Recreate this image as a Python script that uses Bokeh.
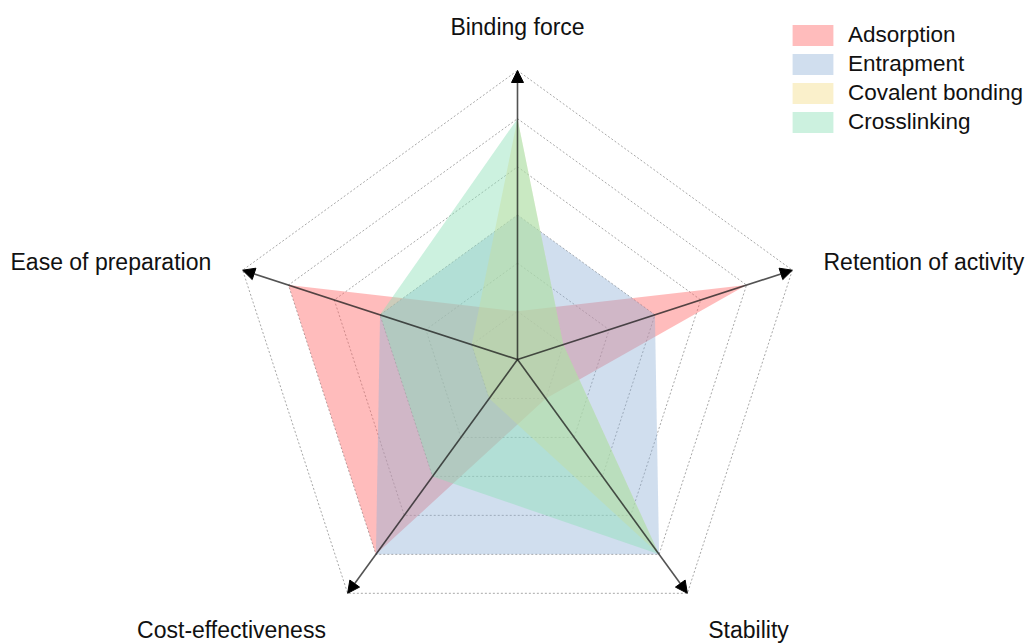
import numpy as np
from bokeh.plotting import figure
from bokeh.models import Range1d, Arrow, NormalHead, Legend, LegendItem, Label
from bokeh.embed import file_html
from bokeh.resources import INLINE

# ---- data ----
categories = ["Binding force", "Retention of activity", "Stability",
              "Cost-effectiveness", "Ease of preparation"]
adsorption = [1, 5, 1, 5, 5]
entrapment = [3, 3, 5, 5, 3]
covalent_bonding = [5, 1, 5, 1, 1]
crosslinking = [5, 1, 5, 3, 3]
series_names = ["Adsorption", "Entrapment", "Covalent bonding", "Crosslinking"]
n_levels = 6

# ---- layout ----
W, H = 1027, 643
CX, CY = 517, 359          # centre in pixels (from top-left)
S = 289 / n_levels         # pixels per level
angles = np.deg2rad([90, 18, -54, -126, 162])

p = figure(width=W, height=H, output_backend="svg", toolbar_location=None,
           x_range=Range1d(-CX / S, (W - CX) / S),
           y_range=Range1d(-(H - CY) / S, CY / S),
           min_border=0, outline_line_color=None)
p.axis.visible = False
p.grid.visible = False
p.background_fill_color = "white"
p.border_fill_color = "white"

# grid pentagons
for lv in range(1, n_levels + 1):
    xs = list(lv * np.cos(angles)) + [lv * np.cos(angles[0])]
    ys = list(lv * np.sin(angles)) + [lv * np.sin(angles[0])]
    p.line(xs, ys, line_color="#a8a8a8", line_width=1, line_dash="2 2")

colors = ["#ff6b6b", "#8fb0d6", "#f2dc82", "#8fe0b8"]
alphas = [0.45, 0.42, 0.42, 0.45]
series = [adsorption, entrapment, covalent_bonding, crosslinking]
items = []
for name, vals, c, al in zip(series_names, series, colors, alphas):
    v = np.array(vals, dtype=float)
    xs = list(v * np.cos(angles))
    ys = list(v * np.sin(angles))
    r = p.patch(xs, ys, fill_color=c, fill_alpha=al, line_alpha=0)
    items.append(LegendItem(label=name, renderers=[r]))

# axes with arrows (drawn over the fills, slightly translucent)
for a in angles:
    p.add_layout(Arrow(end=NormalHead(size=12, fill_color="black", line_color="black", line_width=1),
                       x_start=0, y_start=0,
                       x_end=n_levels * np.cos(a), y_end=n_levels * np.sin(a),
                       line_color="#1a1a1a", line_alpha=0.75, line_width=1.6))

legend = Legend(items=items, location=(787, 643 - 22 - 4 * 26 - 3 * 3),
                glyph_width=51, glyph_height=26, spacing=3, padding=0, margin=0,
                label_standoff=10, label_text_font="Liberation Sans",
                label_text_font_size="22.5px", label_text_color="#111111",
                background_fill_alpha=0, border_line_alpha=0)
p.add_layout(legend)

# category labels (pixel positions)
label_pos = [(517, 26, "center"), (823, 261, "left"), (748, 629, "center"),
             (231, 629, "center"), (10, 261, "left")]
for name, (px, py, al) in zip(categories, label_pos):
    p.add_layout(Label(x=(px - CX) / S, y=(CY - py) / S, text=name,
                       text_align=al, text_baseline="middle",
                       text_font="Liberation Sans", text_font_size="23px",
                       text_color="#111111"))

open("out.html", "w").write(file_html(p, INLINE))
